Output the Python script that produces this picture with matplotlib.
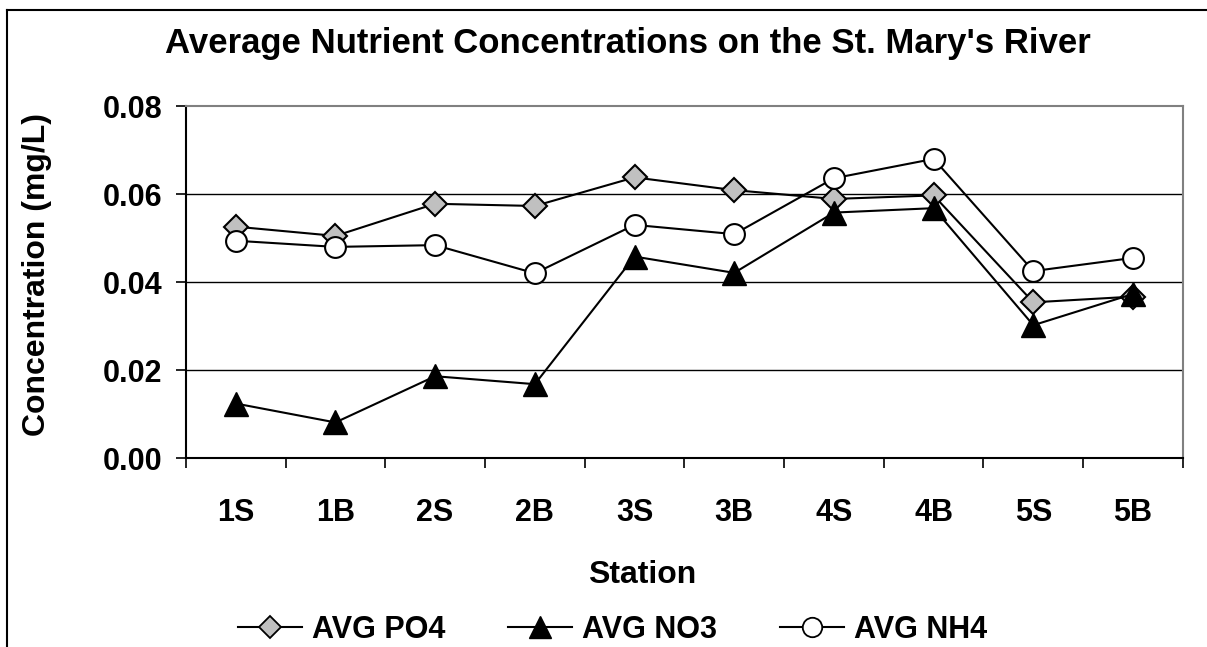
import matplotlib
matplotlib.use("Agg")
from matplotlib import pyplot as plt
from matplotlib.lines import Line2D

stations = ["1S", "1B", "2S", "2B", "3S", "3B", "4S", "4B", "5S", "5B"]
avg_po4 = [0.0526, 0.0505, 0.0578, 0.0573, 0.0638, 0.0609, 0.0589, 0.0597, 0.0354, 0.0367]
avg_no3 = [0.0124, 0.0081, 0.0186, 0.0168, 0.0458, 0.0421, 0.0558, 0.0568, 0.0302, 0.0373]
avg_nh4 = [0.0494, 0.0480, 0.0484, 0.0420, 0.0530, 0.0509, 0.0636, 0.0680, 0.0425, 0.0455]
y_ticks = [0.00, 0.02, 0.04, 0.06, 0.08]

plt.rcParams['font.family'] = ['Liberation Sans', 'DejaVu Sans']
plt.rcParams['font.weight'] = 'bold'

fig = plt.figure(figsize=(12.07, 6.47), dpi=100)
ax = fig.add_axes([0.154, 0.292, 0.826, 0.544])

x = list(range(len(stations)))
ax.plot(x, avg_po4, color='black', lw=1.5, marker='D', ms=12, mfc='#c0c0c0', mec='black', mew=1.5, zorder=3)
ax.plot(x, avg_no3, color='black', lw=1.5, marker='^', ms=17, mfc='black', mec='black', zorder=4)
ax.plot(x, avg_nh4, color='black', lw=1.5, marker='o', ms=15, mfc='white', mec='black', mew=1.5, zorder=3)

ax.set_xlim(-0.5, len(stations) - 0.5)
ax.set_ylim(0, 0.08)
ax.set_yticks(y_ticks)
ax.set_yticklabels([f"{v:.2f}" for v in y_ticks], fontsize=22, fontweight='bold')
ax.set_xticks(x)
ax.set_xticklabels(stations, fontsize=22, fontweight='bold')
ax.tick_params(axis='x', length=0, pad=29)
ax.set_xticks([i - 0.5 for i in range(len(stations) + 1)], minor=True)
ax.tick_params(axis='x', which='minor', length=7, width=1.2, direction='out')
ax.tick_params(axis='y', length=7, width=1.2, direction='out', pad=10)

for v in y_ticks[1:-1]:
    ax.axhline(v, color='black', lw=1, zorder=1)

for side in ['left', 'bottom']:
    ax.spines[side].set_color('black')
    ax.spines[side].set_linewidth(1.5)
for side in ['top', 'right']:
    ax.spines[side].set_color('#808080')
    ax.spines[side].set_linewidth(1.5)

fig.text(0.520, 0.918, "Average Nutrient Concentrations on the St. Mary's River",
         fontsize=25, fontweight='bold', ha='center', va='baseline')
fig.text(0.532, 0.099, "Station", fontsize=23, fontweight='bold', ha='center', va='baseline')
fig.text(0.031, 0.575, "Concentration (mg/L)", fontsize=23, fontweight='bold',
         ha='center', va='center', rotation=90)

handles = [
    Line2D([], [], color='black', lw=1.5, marker='D', ms=11, mfc='#c0c0c0', mec='black', mew=1.3),
    Line2D([], [], color='black', lw=1.5, marker='^', ms=16, mfc='black', mec='black'),
    Line2D([], [], color='black', lw=1.5, marker='o', ms=14, mfc='white', mec='black', mew=1.3),
]
fig.legend(handles, ['AVG PO4', 'AVG NO3', 'AVG NH4'], loc='center left', bbox_to_anchor=(0.197, 0.026),
           ncol=3, frameon=False, prop={'size': 22, 'weight': 'bold'},
           handlelength=2.1, handletextpad=0.33, columnspacing=2.05, borderpad=0, borderaxespad=0)

# outer chart border: left and top edges only fall inside the picture
fig.add_artist(Line2D([0.0058, 0.0058], [0.0, 0.9845], transform=fig.transFigure, color='black', lw=1.5))
fig.add_artist(Line2D([0.0058, 1.0], [0.9845, 0.9845], transform=fig.transFigure, color='black', lw=1.5))

plt.savefig('out.png', dpi=100)
plt.close()
